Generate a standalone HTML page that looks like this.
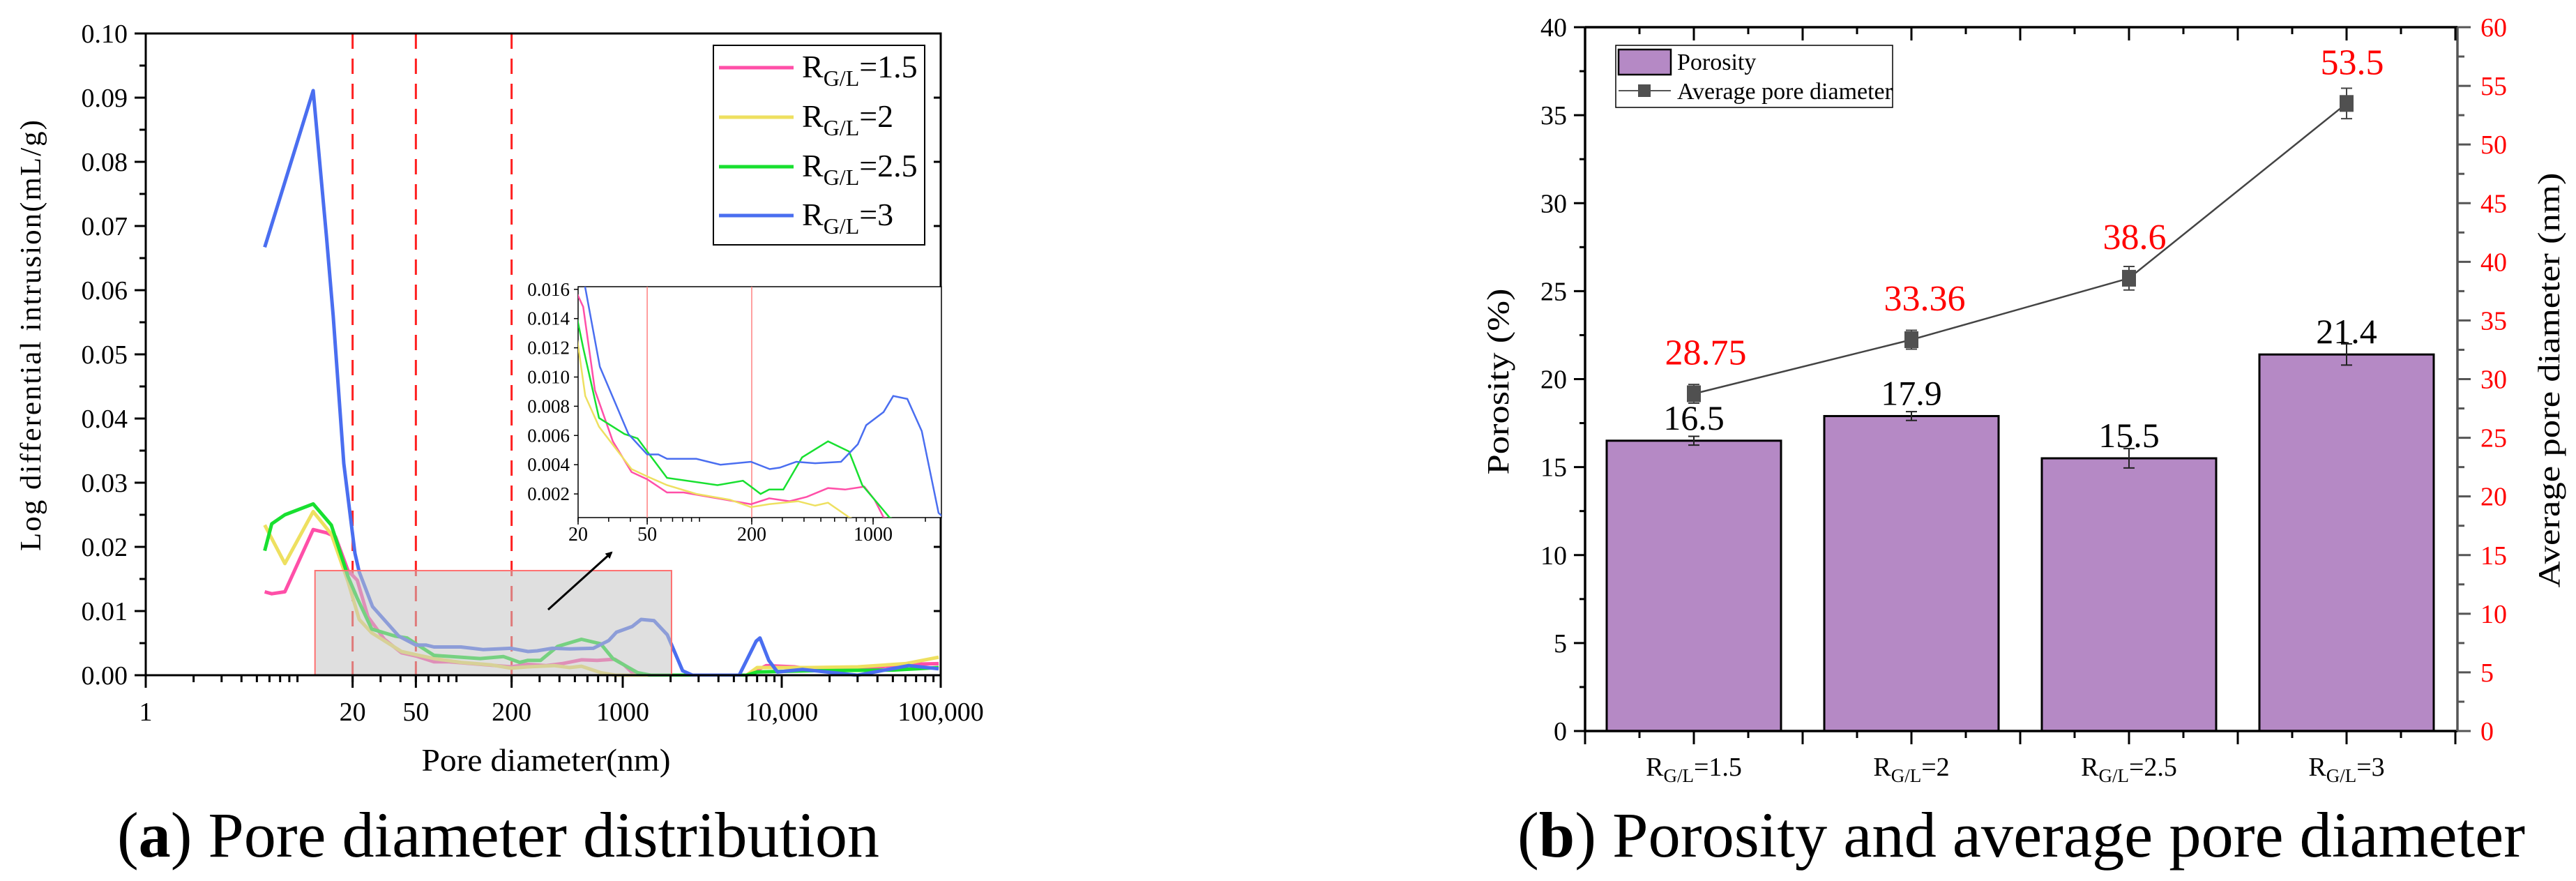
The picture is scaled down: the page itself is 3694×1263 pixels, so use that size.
<!DOCTYPE html>
<html><head><meta charset="utf-8"><style>
html,body{margin:0;padding:0;background:#fff;}
svg{display:block;font-family:"Liberation Serif",serif;}
</style></head><body>
<svg id="fig" width="3694" height="1263" viewBox="0 0 3694 1263" xmlns="http://www.w3.org/2000/svg">
<defs>
<clipPath id="insetClip"><rect x="829" y="411" width="521" height="331"/></clipPath>
<clipPath id="mainClip"><rect x="209" y="48" width="1140" height="922"/></clipPath>
<marker id="arrowHead" markerWidth="10" markerHeight="10" refX="8" refY="5" orient="auto" markerUnits="userSpaceOnUse"><path d="M0,0 L10,5 L0,10 z" fill="#000"/></marker>
</defs>
<g id="left"></g>
<g id="right"></g>
<text x="168" y="1228" font-size="92" textLength="1093" lengthAdjust="spacingAndGlyphs">(<tspan font-weight="bold">a</tspan>) Pore diameter distribution</text>
<text x="2176" y="1228" font-size="92" textLength="1445" lengthAdjust="spacingAndGlyphs">(<tspan font-weight="bold">b</tspan>) Porosity and average pore diameter</text>
</svg>
<script>
// ---------- Data: left chart ----------
const pinkX = [5.6,6.2,7.5,11.3,13.7,15.6,18.7,21.4,25,31.7,40.6,50,65,81,127,198,252,330,415,550,690,890,1020,1148,1500,3000,6000,7000,8000,12000,15000,26000,63000,97000];
const pinkY = [0.0130,0.0127,0.0130,0.0227,0.0222,0.0216,0.0163,0.0148,0.0091,0.0056,0.0035,0.0030,0.0021,0.0021,0.0017,0.0013,0.0017,0.0015,0.0018,0.0024,0.0023,0.0025,0.0016,0.0004,0,0,0,0.0008,0.0015,0.0013,0.0010,0.0009,0.0017,0.0018];
const yellowX = [5.6,7.5,11.3,14.7,18.7,22,26.4,40.6,50,65,96,150,198,252,370,464,550,727,900,3000,6000,7000,15000,30000,60000,97000];
const yellowY = [0.0234,0.0174,0.0255,0.0220,0.0146,0.0087,0.0066,0.0037,0.0032,0.0026,0.0020,0.0016,0.0011,0.0013,0.0015,0.0012,0.0014,0.0004,0,0,0,0.0012,0.0012,0.0013,0.0018,0.0028];
const greenX = [5.6,6.2,7.5,11.3,14.7,18.7,21.4,26.4,37,44,50,65,127,178,198,225,252,304,390,550,727,866,1090,1240,1500,3000,6000,7000,15000,50000,97000];
const greenY = [0.0194,0.0236,0.0250,0.0267,0.0234,0.0154,0.0120,0.0072,0.0061,0.0058,0.0049,0.0031,0.0026,0.0029,0.0025,0.0020,0.0023,0.0023,0.0045,0.0056,0.0049,0.0026,0.0012,0.0004,0,0,0,0.0005,0.0007,0.0008,0.0012];
const blueX = [5.6,11.3,13.7,15.1,17.6,20.7,22,26.7,39,50,58,65,96,132,198,254,290,361,464,653,816,912,1148,1306,1574,1906,2382,2750,5400,6900,7300,8300,9400,13500,30000,63000,97000];
const blueY = [0.0667,0.0911,0.0683,0.0560,0.0330,0.0190,0.0161,0.0107,0.0061,0.0047,0.0047,0.0044,0.0044,0.0040,0.0042,0.0037,0.0038,0.0042,0.0041,0.0042,0.0054,0.0067,0.0076,0.0087,0.0085,0.0063,0.0007,0,0,0.0053,0.0058,0.0023,0.0005,0.0009,0,0.0015,0.0010];
const yTicksL = [0,0.01,0.02,0.03,0.04,0.05,0.06,0.07,0.08,0.09,0.10];
const yTickLabelsL = ["0.00","0.01","0.02","0.03","0.04","0.05","0.06","0.07","0.08","0.09","0.10"];
const xTickVals = [1,20,50,200,1000,10000,100000];
const xTickLabels = ["1","20","50","200","1000","10,000","100,000"];
const insetYTicks = [0.002,0.004,0.006,0.008,0.010,0.012,0.014,0.016];
const insetYLabels = ["0.002","0.004","0.006","0.008","0.010","0.012","0.014","0.016"];
const insetXTicks = [20,50,200,1000];
const insetXLabels = ["20","50","200","1000"];
const dashedLines = [20,50,200];
// ---------- Data: right chart ----------
const categories = ["1.5","2","2.5","3"];
const porosity = [16.5,17.9,15.5,21.4];
const porosityErr = [0.25,0.25,0.55,0.6];
const poreDiam = [28.75,33.36,38.6,53.5];
const poreDiamErr = [0.8,0.8,1.0,1.3];
const poreLabels = ["28.75","33.36","38.6","53.5"];
const porLabels = ["16.5","17.9","15.5","21.4"];
const yTicksR1 = [0,5,10,15,20,25,30,35,40];
const yTicksR2 = [0,5,10,15,20,25,30,35,40,45,50,55,60];

const NS = "http://www.w3.org/2000/svg";
function mk(parent, tag, attrs, txt){
  const e = document.createElementNS(NS, tag);
  for (const k in attrs) e.setAttribute(k, attrs[k]);
  if (txt !== undefined) e.textContent = txt;
  parent.appendChild(e);
  return e;
}
const L = document.getElementById('left');
const R = document.getElementById('right');

const X0 = 209, X1 = 1349, Y0 = 968, Y1 = 48;
const xs = v => X0 + Math.log10(v) / 5 * (X1 - X0);
const ys = v => Y0 - v / 0.1 * (Y0 - Y1);
const IX0 = 829, IX1 = 1350, IY0 = 742, IY1 = 411;
const ixs = v => IX0 + (Math.log10(v) - Math.log10(20)) * 249;
const iys = v => 750 - v * 20950;

const series = [
  {name:'pink', x:pinkX, y:pinkY, c:'#ff4fa8'},
  {name:'yellow', x:yellowX, y:yellowY, c:'#eee060'},
  {name:'green', x:greenX, y:greenY, c:'#18e030'},
  {name:'blue', x:blueX, y:blueY, c:'#4a6ef0'}
];

dashedLines.forEach(v => {
  const e = mk(L,'line',{x1:xs(v),x2:xs(v),y1:Y1,y2:Y0,stroke:'#ff2020','stroke-width':3,'stroke-dasharray':'22 14'});
  
  
});
series.forEach(s => {
  const d = s.x.map((v,i)=>(i?'L':'M')+xs(v).toFixed(1)+','+ys(s.y[i]).toFixed(1)).join(' ');
  const e = mk(L,'path',{d:d,fill:'none',stroke:s.c,'stroke-width':5,'stroke-linejoin':'round','clip-path':'url(#mainClip)'});
  
  
});
const hb = mk(L,'rect',{x:xs(11.6),y:ys(0.0163),width:xs(2027)-xs(11.6),height:Y0-ys(0.0163),fill:'#c4c4c4','fill-opacity':0.55,stroke:'#ff7070','stroke-width':2});


const ar = mk(L,'line',{x1:786,y1:874,x2:877,y2:792,stroke:'#000','stroke-width':3,'marker-end':'url(#arrowHead)'});



const axL = mk(L,'path',{d:`M${X0},${Y1} L${X0},${Y0} L${X1},${Y0} L${X1},${Y1} L${X0},${Y1}`,fill:'none',stroke:'#000','stroke-width':3});


yTicksL.forEach((v,i)=>{
  mk(L,'line',{x1:X0-16,x2:X0,y1:ys(v),y2:ys(v),stroke:'#000','stroke-width':3});
  mk(L,'line',{x1:X1-10,x2:X1,y1:ys(v),y2:ys(v),stroke:'#000','stroke-width':3});
  if (i<yTicksL.length-1){
    mk(L,'line',{x1:X0-9,x2:X0,y1:ys(v+0.005),y2:ys(v+0.005),stroke:'#000','stroke-width':3});
  }
  const t = mk(L,'text',{x:X0-26,y:ys(v)+13,'font-size':38,'text-anchor':'end'},yTickLabelsL[i]);
  
  
});
for (let k=0;k<5;k++) for (let m=2;m<=9;m++){
  const v = m*Math.pow(10,k);
  mk(L,'line',{x1:xs(v),x2:xs(v),y1:Y0,y2:Y0+10,stroke:'#000','stroke-width':3});
}
xTickVals.forEach((v,i)=>{
  mk(L,'line',{x1:xs(v),x2:xs(v),y1:Y0,y2:Y0+18,stroke:'#000','stroke-width':3});
  const t = mk(L,'text',{x:xs(v),y:1033,'font-size':38,'text-anchor':'middle'},xTickLabels[i]);
  
  
});
const xt = mk(L,'text',{x:783,y:1105,'font-size':46,'text-anchor':'middle',textLength:357,lengthAdjust:'spacingAndGlyphs'},'Pore diameter(nm)');


const yt = mk(L,'text',{x:0,y:0,'font-size':42,'text-anchor':'middle',transform:'translate(58,480) rotate(-90)',textLength:620,lengthAdjust:'spacingAndGlyphs','letter-spacing':2},'Log differential intrusion(mL/g)');



const lg = mk(L,'g',{});


mk(lg,'rect',{x:1023,y:65,width:303,height:286,fill:'#fff',stroke:'#000','stroke-width':2});
const legY = [97,168,239,309];
const legVal = ["1.5","2","2.5","3"];
series.forEach((s,i)=>{
  const g = mk(lg,'g',{});
  
  
  mk(g,'line',{x1:1031,x2:1138,y1:legY[i],y2:legY[i],stroke:s.c,'stroke-width':5});
  const t = mk(g,'text',{x:1150,y:legY[i]+14,'font-size':46});
  mk(t,'tspan',{},'R');
  mk(t,'tspan',{'font-size':32,dy:12},'G/L');
  mk(t,'tspan',{dy:-12},'='+legVal[i]);
});

const ig = mk(L,'g',{});


mk(ig,'rect',{x:IX0,y:IY1,width:IX1-IX0,height:IY0-IY1,fill:'#fff',stroke:'#000','stroke-width':1.5});
[50,200].forEach(v=>{
  const e = mk(ig,'line',{x1:ixs(v),x2:ixs(v),y1:IY1,y2:IY0,stroke:'#ff8080','stroke-width':1.5});
  
  
});
series.forEach(s=>{
  const d = s.x.map((v,i)=>(i?'L':'M')+ixs(v).toFixed(1)+','+iys(s.y[i]).toFixed(1)).join(' ');
  const e = mk(ig,'path',{d:d,fill:'none',stroke:s.c,'stroke-width':2.5,'clip-path':'url(#insetClip)'});
  
  
});
insetYTicks.forEach((v,i)=>{
  mk(ig,'line',{x1:IX0-6,x2:IX0,y1:iys(v),y2:iys(v),stroke:'#000','stroke-width':1.5});
  const t = mk(ig,'text',{x:IX0-12,y:iys(v)+9,'font-size':27,'text-anchor':'end'},insetYLabels[i]);
  
  
});
for (let k=1;k<4;k++) for (let m=1;m<=9;m++){
  const v = m*Math.pow(10,k);
  if (v<20||v>2400) continue;
  mk(ig,'line',{x1:ixs(v),x2:ixs(v),y1:IY0,y2:IY0+6,stroke:'#000','stroke-width':1.5});
}
insetXTicks.forEach((v,i)=>{
  mk(ig,'line',{x1:ixs(v),x2:ixs(v),y1:IY0,y2:IY0+10,stroke:'#000','stroke-width':1.5});
  const t = mk(ig,'text',{x:ixs(v),y:775,'font-size':28,'text-anchor':'middle'},insetXLabels[i]);
  
  
});

// ---------- Right chart ----------
const RX0 = 2273, RX1 = 3524, RY0 = 1048, RY1 = 39;
const ry1 = v => RY0 - v/40*(RY0-RY1);
const ry2 = v => RY0 - v/60*(RY0-RY1);
const cx = i => 2429 + i*312;
const BW = 250;
const labelDx = [17,19,8,8];
porosity.forEach((v,i)=>{
  const b = mk(R,'rect',{x:cx(i)-BW/2,y:ry1(v),width:BW,height:RY0-ry1(v),fill:'#b589c5',stroke:'#000','stroke-width':3});
  
  
  const e = porosityErr[i];
  mk(R,'path',{d:`M${cx(i)},${ry1(v+e)} L${cx(i)},${ry1(v-e)} M${cx(i)-8},${ry1(v+e)} L${cx(i)+8},${ry1(v+e)} M${cx(i)-8},${ry1(v-e)} L${cx(i)+8},${ry1(v-e)}`,stroke:'#222','stroke-width':2,fill:'none'});
  const t = mk(R,'text',{x:cx(i),y:ry1(v)-16,'font-size':50,'text-anchor':'middle'},porLabels[i]);
  
  
});
const ld = poreDiam.map((v,i)=>(i?'L':'M')+cx(i)+','+ry2(v)).join(' ');
const lp = mk(R,'path',{d:ld,fill:'none',stroke:'#444','stroke-width':2.5});


poreDiam.forEach((v,i)=>{
  const e = poreDiamErr[i];
  mk(R,'path',{d:`M${cx(i)},${ry2(v+e)} L${cx(i)},${ry2(v-e)} M${cx(i)-8},${ry2(v+e)} L${cx(i)+8},${ry2(v+e)} M${cx(i)-8},${ry2(v-e)} L${cx(i)+8},${ry2(v-e)}`,stroke:'#444','stroke-width':2,fill:'none'});
  const m = mk(R,'rect',{x:cx(i)-10,y:ry2(v)-12,width:20,height:24,fill:'#505050'});
  
  
  const t = mk(R,'text',{x:cx(i)+labelDx[i],y:ry2(v)-42,'font-size':52,'text-anchor':'middle',fill:'#ff0000'},poreLabels[i]);
  
  
});
const fr = mk(R,'path',{d:`M${RX0},${RY1} L${RX1},${RY1} M${RX0},${RY1} L${RX0},${RY0} L${RX1},${RY0}`,fill:'none',stroke:'#000','stroke-width':3.5});


const ra = mk(R,'line',{x1:RX1,x2:RX1,y1:RY1,y2:RY0,stroke:'#555','stroke-width':3.5});


yTicksR1.forEach(v=>{
  mk(R,'line',{x1:RX0-16,x2:RX0,y1:ry1(v),y2:ry1(v),stroke:'#000','stroke-width':3});
  if (v<40) mk(R,'line',{x1:RX0-8,x2:RX0,y1:ry1(v+2.5),y2:ry1(v+2.5),stroke:'#000','stroke-width':3});
  const t = mk(R,'text',{x:RX0-26,y:ry1(v)+13,'font-size':38,'text-anchor':'end'},String(v));
  
  
});
yTicksR2.forEach(v=>{
  mk(R,'line',{x1:RX1,x2:RX1+19,y1:ry2(v),y2:ry2(v),stroke:'#555','stroke-width':3});
  if (v<60) mk(R,'line',{x1:RX1,x2:RX1+10,y1:ry2(v+2.5),y2:ry2(v+2.5),stroke:'#555','stroke-width':3});
  const t = mk(R,'text',{x:RX1+33,y:ry2(v)+13,'font-size':38,fill:'#ff0000'},String(v));
  
  
});
for (let k=0;k<=8;k++){
  const x = RX0 + k*156;
  mk(R,'line',{x1:x,x2:x,y1:RY0,y2:RY0+19,stroke:'#000','stroke-width':3});
  mk(R,'line',{x1:x,x2:x,y1:RY1,y2:RY1+19,stroke:'#000','stroke-width':3});
  if (k<8){
    mk(R,'line',{x1:x+78,x2:x+78,y1:RY0,y2:RY0+10,stroke:'#000','stroke-width':3});
    mk(R,'line',{x1:x+78,x2:x+78,y1:RY1,y2:RY1+10,stroke:'#000','stroke-width':3});
  }
}
categories.forEach((c,i)=>{
  const t = mk(R,'text',{x:cx(i),y:1112,'font-size':38,'text-anchor':'middle'});
  
  
  mk(t,'tspan',{},'R');
  mk(t,'tspan',{'font-size':27,dy:9},'G/L');
  mk(t,'tspan',{dy:-9},'='+c);
});
const t1 = mk(R,'text',{x:0,y:0,'font-size':44,'text-anchor':'middle',transform:'translate(2163,547) rotate(-90)',textLength:267,lengthAdjust:'spacingAndGlyphs'},'Porosity (%)');


const t2 = mk(R,'text',{x:0,y:0,'font-size':44,'text-anchor':'middle',transform:'translate(3670,545) rotate(-90)',textLength:595,lengthAdjust:'spacingAndGlyphs'},'Average pore diameter (nm)');


const lb = mk(R,'g',{});


mk(lb,'rect',{x:2317,y:65,width:397,height:89,fill:'#fff',stroke:'#000','stroke-width':1.5});
mk(lb,'rect',{x:2321,y:71,width:75,height:36,fill:'#b589c5',stroke:'#000','stroke-width':2.5});
mk(lb,'text',{x:2405,y:100,'font-size':34},'Porosity');
mk(lb,'line',{x1:2321,x2:2396,y1:130,y2:130,stroke:'#555','stroke-width':2});
mk(lb,'rect',{x:2349,y:121,width:18,height:18,fill:'#505050'});
mk(lb,'text',{x:2405,y:142,'font-size':34},'Average pore diameter');
</script>
</body></html>
